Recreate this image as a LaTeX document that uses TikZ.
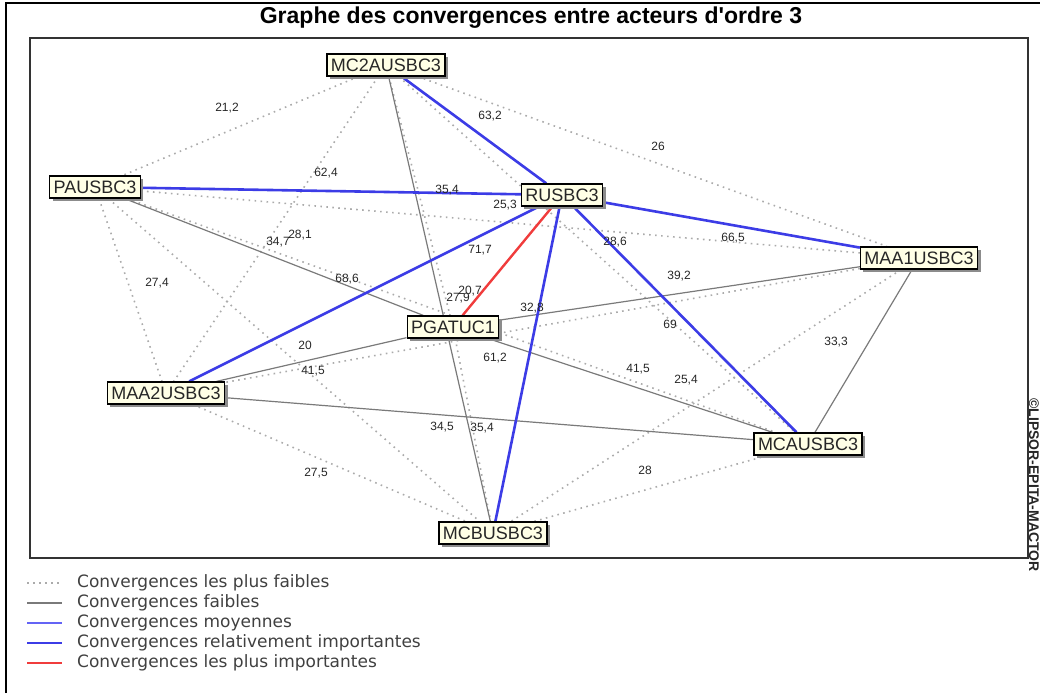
\documentclass[tikz,border=0pt]{standalone}
\usepackage{fontspec}
\setmainfont{Liberation Sans}
\newfontfamily\legfont{DejaVu Sans}
\newfontfamily\titlefont{Liberation Sans}
\usetikzlibrary{shadows,backgrounds}
\definecolor{cream}{HTML}{FFFFE6}
\definecolor{dotgray}{HTML}{ABABAB}
\definecolor{solidgray}{HTML}{7A7A7A}
\definecolor{bluemid}{HTML}{6464F5}
\definecolor{bluestrong}{HTML}{3C3CE6}
\definecolor{redtop}{HTML}{F03C3C}
\tikzset{actor/.style={draw=black,line width=1.3pt,fill=cream,inner xsep=4pt,inner ysep=1pt,minimum height=22pt,font=\fontsize{18}{18}\selectfont,text=black!85,drop shadow={shadow xshift=3pt,shadow yshift=-3pt,fill=black!45,opacity=1}},weakest/.style={draw=dotgray,line width=1.6pt,dash pattern=on 1.6pt off 4.4pt},weak/.style={draw=solidgray,line width=1.2pt},medium/.style={draw=bluemid,line width=1.4pt},strong/.style={draw=bluestrong,line width=2.6pt},strongest/.style={draw=redtop,line width=2.4pt},val/.style={font=\fontsize{12}{12}\selectfont,text=black!85,inner sep=0pt},legtext/.style={font=\legfont\fontsize{17}{17}\selectfont,text=black!75,anchor=west,inner sep=0pt}}
\begin{document}
\begin{tikzpicture}[x=1pt,y=-1pt]
\useasboundingbox (0,0) rectangle (1040,693);
\draw[line width=1.5pt] (6,693)--(6,3)--(1040,3);
\node[font=\titlefont\fontsize{23}{23}\selectfont\bfseries] (title) at (531,18) {Graphe des convergences entre acteurs d'ordre 3};
\draw[line width=1.5pt,black!80] (30,38) rectangle (1028,558);
\node[rotate=-90,font=\fontsize{14}{14}\selectfont\bfseries,text=black!85] (mark) at (1034,485) {©LIPSOR-EPITA-MACTOR};
\node[actor] (mc2a) at (386,65) {MC2AUSBC3};
\node[actor] (pa) at (95,187) {PAUSBC3};
\node[actor] (ru) at (562,195) {RUSBC3};
\node[actor] (maa1) at (919,258) {MAA1USBC3};
\node[actor] (pgat) at (453,327) {PGATUC1};
\node[actor] (maa2) at (166,393) {MAA2USBC3};
\node[actor] (mca) at (808,444) {MCAUSBC3};
\node[actor] (mcb) at (493,533) {MCBUSBC3};
\begin{scope}[on background layer]
\draw[weakest](mc2a)--(pa);\draw[weakest](mc2a)--(maa1);\draw[weakest](mc2a)--(pgat);\draw[weakest](mc2a)--(maa2);
\draw[weakest](mc2a)--(mca);\draw[weakest](pa)--(maa1);\draw[weakest](pa)--(maa2);\draw[weakest](pa)--(mca);
\draw[weakest](pa)--(mcb);\draw[weakest](maa1)--(maa2);\draw[weakest](maa1)--(mcb);\draw[weakest](maa2)--(mcb);
\draw[weakest](mca)--(mcb);\draw[weakest](pgat)--(mcb);
\draw[weak](mc2a)--(mcb);\draw[weak](pa)--(pgat);\draw[weak](pgat)--(maa1);\draw[weak](maa1)--(mca);
\draw[weak](pgat)--(maa2);\draw[weak](pgat)--(mca);\draw[weak](maa2)--(mca);
\draw[strong](mc2a)--(ru);\draw[strong](pa)--(ru);\draw[strong](ru)--(maa1);
\draw[strong](ru)--(maa2);\draw[strong](ru)--(mca);\draw[strong](ru)--(mcb);
\draw[strongest](ru)--(pgat);
\end{scope}
\node[val] (v-mc2a-pa) at (227,108) {21,2};
\node[val] (v-mc2a-ru) at (490,116) {63,2};
\node[val] (v-mc2a-maa1) at (658,146) {26};
\node[val] (v-pa-ru) at (326,173) {62,4};
\node[val] (v-mc2a-pgat) at (447,190) {35,4};
\node[val] (v-pa-maa1) at (505,205) {25,3};
\node[val] (v-pa-pgat) at (278,242) {34,7};
\node[val] (v-mc2a-maa2) at (300,235) {28,1};
\node[val] (v-ru-pgat) at (480,250) {71,7};
\node[val] (v-mc2a-mca) at (615,242) {28,6};
\node[val] (v-ru-maa1) at (733,238) {66,5};
\node[val] (v-pa-maa2) at (157,283) {27,4};
\node[val] (v-ru-maa2) at (347,279) {68,6};
\node[val] (v-pa-mca) at (470,291) {20,7};
\node[val] (v-mc2a-mcb) at (458,298) {27,9};
\node[val] (v-pgat-maa1) at (679,276) {39,2};
\node[val] (v-maa1-maa2) at (532,308) {32,8};
\node[val] (v-ru-mca) at (670,324) {69};
\node[val] (v-pa-mcb) at (305,345) {20};
\node[val] (v-pgat-maa2) at (313,371) {41,5};
\node[val] (v-ru-mcb) at (495,358) {61,2};
\node[val] (v-maa1-mca) at (836,342) {33,3};
\node[val] (v-pgat-mca) at (638,369) {41,5};
\node[val] (v-maa1-mcb) at (686,380) {25,4};
\node[val] (v-maa2-mca) at (442,427) {34,5};
\node[val] (v-pgat-mcb) at (482,428) {35,4};
\node[val] (v-maa2-mcb) at (316,473) {27,5};
\node[val] (v-mca-mcb) at (645,470) {28};
\draw[weakest] (27,583)--(62,583);
\draw[weak] (27,603)--(62,603);
\draw[medium] (27,623)--(62,623);
\draw[strong] (27,643)--(62,643);
\draw[strongest] (27,663)--(62,663);
\node[legtext] (leg1) at (77,583) {Convergences les plus faibles};
\node[legtext] (leg2) at (77,603) {Convergences faibles};
\node[legtext] (leg3) at (77,623) {Convergences moyennes};
\node[legtext] (leg4) at (77,643) {Convergences relativement importantes};
\node[legtext] (leg5) at (77,663) {Convergences les plus importantes};
\end{tikzpicture}
\end{document}
